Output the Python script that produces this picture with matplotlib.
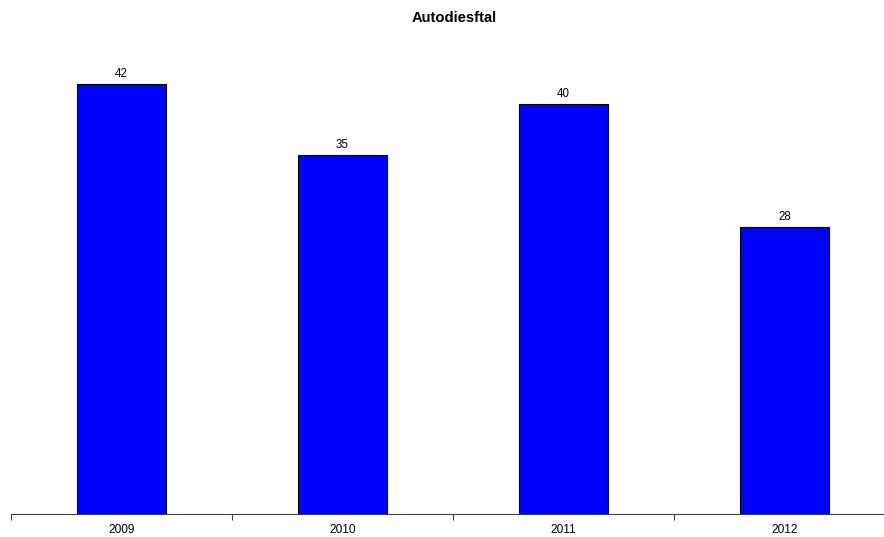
import matplotlib.pyplot as plt
import numpy as np

plt.rcParams['font.family'] = ['Liberation Sans', 'DejaVu Sans']

years = ['2009', '2010', '2011', '2012']
counts = [42, 35, 40, 28]

W, H = 884, 537
fig = plt.figure(figsize=(W / 100, H / 100), dpi=100)

# axes placed in pixel terms: base line at y=514, categories 221 px wide starting at x=11
ymax = 48
px_per_unit = 10.25
left, bottom = 11, H - 514
ax = fig.add_axes([left / W, bottom / H, 4 * 221 / W, ymax * px_per_unit / H])

x = np.arange(len(years))
bars = ax.bar(x, counts, width=0.4, color='#0000ff', edgecolor='black', linewidth=0.8)
for xi, v in zip(x, counts):
    ax.text(xi, v + 0.68, str(v), ha='center', va='baseline', fontsize=8.3)

ax.set_xlim(-0.5, len(years) - 0.5)
ax.set_ylim(0, ymax)
ax.set_xticks(x)
ax.set_xticklabels(years, fontsize=8.6)
ax.tick_params(axis='x', which='major', length=0, pad=7.5)
ax.set_xticks(np.arange(len(years) + 1) - 0.5, minor=True)
ax.tick_params(axis='x', which='minor', length=4, width=0.8, color='#404040')
ax.set_yticks([])
for s in ['top', 'right', 'left']:
    ax.spines[s].set_visible(False)
ax.spines['bottom'].set_color('#404040')
ax.spines['bottom'].set_linewidth(0.8)

fig.text(454.5 / W, 1 - 18 / H, 'Autodiesftal', ha='center', va='center',
         fontsize=10.6, fontweight='bold')

fig.savefig('out.png', dpi=100)
